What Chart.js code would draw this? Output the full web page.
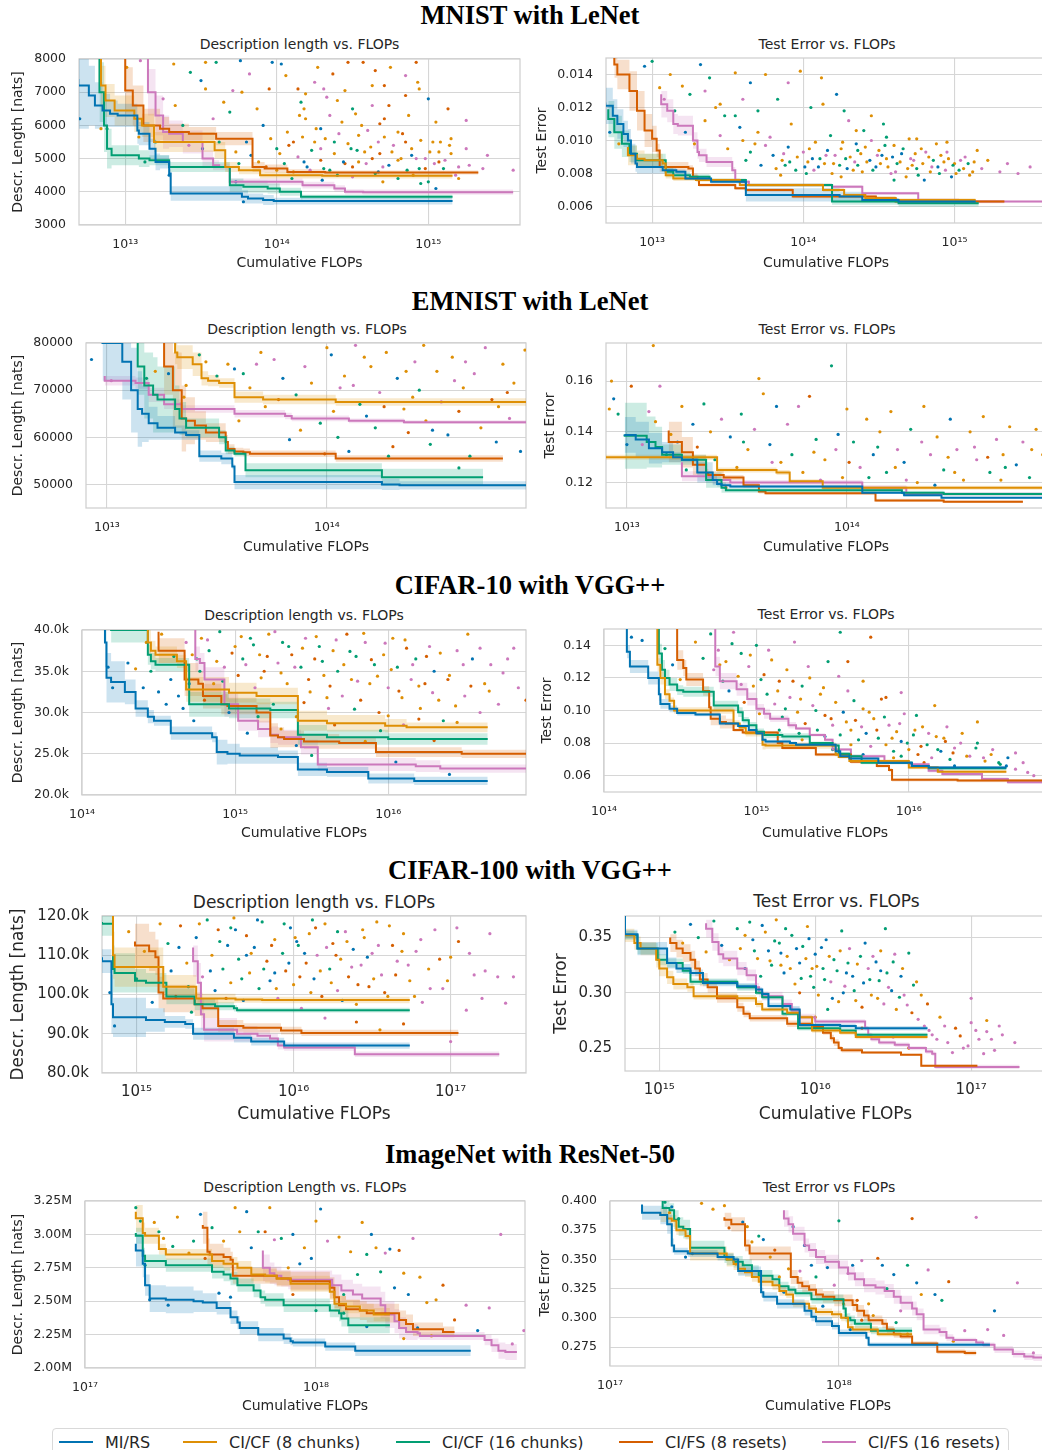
<!DOCTYPE html>
<html>
<head>
<meta charset="utf-8">
<script src="https://cdn.jsdelivr.net/npm/chart.js@4.4.1/dist/chart.umd.min.js"></script>
<style>
  html, body { margin: 0; padding: 0; overflow: hidden; background: #fff; }
  body { width: 1042px; height: 1450px; position: relative; font-family: "DejaVu Sans", sans-serif; color: #262626; }
  canvas { position: absolute; }
  .title { position: absolute; left: 0; width: 1060px; text-align: center; font: bold 26.5px "Liberation Serif", serif; color: #000; line-height: 1.2; white-space: nowrap; }
  .sub { position: absolute; width: 400px; text-align: center; line-height: 1.2; white-space: nowrap; color: #262626; }
  #legend { position: absolute; left: 52px; top: 1428px; width: 955px; height: 40px; border: 1px solid #d9d9d9; border-radius: 4px; }
  .lg-line { position: absolute; width: 34px; height: 2px; }
  .lg-text { position: absolute; font-size: 16px; line-height: 1.2; white-space: nowrap; color: #262626; }
</style>
</head>
<body>
<div id="legend"></div>
<script>
// ===============================
// SERIES
// ===============================
const SERIES_NAMES = ["MI/RS", "CI/CF (8 chunks)", "CI/CF (16 chunks)", "CI/FS (8 resets)", "CI/FS (16 resets)"];
const COLORS = ["#0173b2", "#de8f05", "#029e73", "#d55e00", "#cc78bc"];

// step rows: [log10 FLOPs, mean, half band width]
// order in every panel: MI/RS, CI/CF 8, CI/CF 16, CI/FS 8, CI/FS 16
// dots: [log10 FLOPs, value, series index]

// ===============================
// MNIST with LeNet
// ===============================
const MNIST_XTICKS = [13, 14, 15];
const MNIST_DL_YTICKS = [3000, 4000, 5000, 6000, 7000, 8000];
const MNIST_TE_YTICKS = [0.006, 0.008, 0.010, 0.012, 0.014];

const MNIST_DL_STEPS = [
  [[12.69,7400,1500],[12.76,7200,1300],[12.80,6900,900],[12.85,6600,700],[12.9,6450,500],[12.95,6350,400],[13.08,6300,350],[13.09,5850,400],[13.16,5750,350],[13.2,5300,300],[13.23,4900,250],[13.29,4900,200],[13.3,4550,120],[13.77,3950,220],[13.81,3850,200],[13.91,3800,150],[13.98,3750,150],[15.16,3720,100]],
  [[12.84,8500,600],[12.87,7200,600],[12.93,6750,500],[13.06,6450,450],[13.11,6200,400],[13.19,6000,350],[13.59,5500,300],[13.66,5250,250],[13.75,4750,150],[13.89,4650,120],[14.3,4500,100],[15.16,4480,80]],
  [[12.83,8500,900],[12.86,7000,900],[12.88,6000,800],[12.91,5300,600],[13.09,5100,300],[13.16,5000,250],[13.29,4950,150],[13.69,4750,150],[13.78,4200,200],[13.94,4150,180],[14.02,4100,150],[14.16,4000,120],[14.17,3850,80],[15.16,3850,60]],
  [[13.0,8500,800],[13.05,7050,700],[13.12,6600,600],[13.23,6000,500],[13.29,5900,350],[13.42,5800,250],[13.6,5750,200],[13.84,5600,200],[13.92,4750,150],[14.07,4700,120],[14.32,4600,80],[15.33,4580,60]],
  [[13.15,8500,800],[13.2,7000,700],[13.25,6300,600],[13.29,5800,500],[13.38,5750,400],[13.51,5500,350],[13.58,5000,250],[13.62,4800,150],[13.69,4750,100],[14.17,4300,100],[14.38,4200,100],[14.45,4100,100],[14.57,4000,80],[15.56,3990,80]]
];
const MNIST_DL_DOTS = [
  [12.7,6200,0],[12.84,5900,1],[12.88,5900,2],[13.09,5650,1],[13.01,7750,1],[13.1,7950,4],[13.32,7850,1],[13.43,7600,2],[13.53,7900,1],[13.5,7350,0],[13.6,7900,2],[13.53,7100,1],[13.71,7050,4],[13.69,6400,2],[13.76,7950,0],[13.77,7000,1],[13.82,7550,4],[13.95,7100,3],[13.97,7900,0],[14.03,7850,0],
  [14.06,7500,1],[14.14,7100,3],[14.16,6700,2],[14.19,6950,1],[14.27,7750,1],[14.31,7100,4],[14.37,7550,3],[14.4,6750,1],[14.47,7900,3],[14.57,7900,3],[14.63,7200,1],[14.71,7200,3],[14.75,7750,1],[14.92,7900,3],[14.93,7300,1],[15.0,6800,0],[15.13,6500,3],[15.25,6150,4],[14.07,5800,1],[14.19,6200,1],
  [14.11,5500,3],[14.25,5500,1],[14.29,5900,0],[14.38,5500,2],[14.43,6100,1],[14.49,5300,2],[14.54,5700,1],[14.58,5200,1],[14.63,5000,3],[14.67,5500,4],[14.71,6200,3],[14.76,5200,1],[14.8,5800,1],[14.85,5500,3],[14.89,5100,0],[14.94,4700,2],[14.98,5000,4],[15.03,5500,1],[15.07,4900,3],[15.14,5400,1],
  [15.18,4500,4],[15.27,4800,4],[15.36,4700,4],[15.39,5100,4],[15.56,4650,4],[14.18,4900,0],[14.31,4700,2],[14.4,4500,2],[14.54,4900,1],[14.67,4600,0],[14.8,4400,2],[15.0,4300,2],[15.05,4100,0],[13.91,6000,0],[13.96,5600,1],[14.0,5300,2],[13.87,6500,1],[13.8,5500,0],[13.73,5200,1],[13.62,5500,2],
  [13.51,5300,0],[13.42,5400,4],[13.38,6000,2],[13.33,6600,1],[13.25,6800,4],[13.2,5500,2],[13.13,4900,2],[13.29,4500,0],[13.73,4300,0],[13.78,3700,0],[13.58,6200,4],[13.65,6700,1],[14.18,6500,1],[14.5,6500,2],[14.74,6600,3],[14.94,7100,1],[14.63,6600,4],[14.29,5300,4],[14.82,5000,1],[15.07,5200,1],
  [15.15,5600,1],[14.45,4850,3],[14.7,4750,4],[14.9,4500,1],[15.2,4400,1],[14.35,6300,4],[14.85,6900,3],[14.6,5850,4],[14.22,4650,4],[15.1,4700,2],
  [14.02,5150,1],[14.05,4850,2],[14.08,5400,3],[14.11,4600,1],[14.14,5050,4],[14.17,5650,1],[14.2,4750,0],[14.23,5250,2],[14.26,5900,1],[14.29,4950,3],[14.32,5600,1],[14.35,4650,2],[14.38,5150,1],[14.41,5750,4],[14.44,4900,0],[14.47,5450,1],[14.5,4750,3],[14.53,5250,2],[14.56,6000,1],[14.59,4850,4],
  [14.62,5350,1],[14.65,4550,2],[14.68,5150,3],[14.71,5650,1],[14.74,4800,0],[14.77,5400,4],[14.8,4950,1],[14.83,5750,3],[14.86,4650,2],[14.89,5300,1],[14.92,5000,4],[14.95,5550,1],[14.98,4700,3],[15.01,5200,1],[15.04,4850,4],[15.08,5500,1],[15.11,4950,4],[15.15,5150,1],[15.2,4750,4],[15.25,5300,4],
  [14.15,6300,1],[14.33,6850,4],[14.52,6350,1],[14.68,6050,3],[14.87,6300,1],[15.05,6100,1],[14.25,7300,4],[14.45,7050,1],[14.65,7650,3],[14.85,7500,4],[13.88,4900,1],[13.93,4750,3],[14.0,4650,1],[13.83,5100,0],[13.75,4850,2],[14.1,4400,2],[14.3,4350,0],[14.5,4450,4],[14.7,4300,1],[14.95,4250,2]
];

const MNIST_TE_STEPS = [
  [[12.69,0.0123,0.0012],[12.74,0.0121,0.0011],[12.77,0.0115,0.001],[12.81,0.011,0.0009],[12.84,0.0104,0.0008],[12.86,0.0100,0.0007],[12.89,0.0092,0.0006],[12.9,0.0086,0.0005],[13.07,0.0084,0.0004],[13.16,0.0082,0.0002],[13.22,0.0081,0.00015],[13.39,0.0077,0.0001],[13.62,0.0075,0.0001],[14.24,0.0067,0.0004],[14.39,0.0066,0.0003],[14.63,0.0064,0.0001],[15.14,0.0063,0.0001]],
  [[12.84,0.0096,0.0007],[12.9,0.0091,0.0006],[12.95,0.0089,0.0005],[13.07,0.0088,0.0004],[13.09,0.0086,0.0003],[13.14,0.0079,0.0002],[13.29,0.0077,0.00015],[13.58,0.0076,0.0001],[14.13,0.0073,0.0001],[14.27,0.0070,0.0001],[14.41,0.0067,0.0001],[14.61,0.0065,0.0001],[15.03,0.0064,0.0001],[15.14,0.0064,0.0001]],
  [[12.71,0.0119,0.0012],[12.75,0.0113,0.0011],[12.8,0.0105,0.001],[12.85,0.0098,0.0008],[12.9,0.0092,0.0005],[13.09,0.0088,0.0004],[13.14,0.0081,0.0003],[13.25,0.0079,0.0002],[13.38,0.0078,0.00015],[13.62,0.0076,0.0001],[14.19,0.0073,0.0001],[14.63,0.0063,0.0002],[14.85,0.0062,0.0002],[15.16,0.0062,0.0002]],
  [[12.75,0.0155,0.0008],[12.77,0.0146,0.0008],[12.85,0.0140,0.0009],[12.9,0.0130,0.0012],[12.95,0.0118,0.0012],[13.0,0.0106,0.001],[13.03,0.0101,0.0008],[13.05,0.0094,0.0004],[13.24,0.0084,0.0003],[13.27,0.0083,0.0002],[13.3,0.0078,0.0002],[13.31,0.0076,0.00015],[13.55,0.0073,0.0001],[13.62,0.0071,0.0001],[13.93,0.0070,0.0001],[14.48,0.0066,0.0001],[14.61,0.0065,0.0001],[15.14,0.0063,0.0001],[15.33,0.0063,0.0001]],
  [[13.06,0.0128,0.0008],[13.1,0.0122,0.0008],[13.14,0.0118,0.0007],[13.17,0.0110,0.0006],[13.27,0.0109,0.0006],[13.3,0.0100,0.0005],[13.31,0.0093,0.0004],[13.36,0.0091,0.0004],[13.53,0.0087,0.0003],[13.55,0.0082,0.0002],[13.58,0.0076,0.0001],[13.64,0.0075,0.0001],[14.19,0.0073,0.0001],[14.39,0.0072,0.0001],[14.76,0.0068,0.0001],[15.03,0.0064,0.0001],[15.1,0.0063,0.00005],[15.61,0.0063,0.00005]]
];
const MNIST_TE_DOTS = [
  [12.72,0.0105,0],[12.78,0.0098,1],[12.95,0.0145,0],[13.0,0.0148,2],[13.05,0.0132,1],[13.08,0.0125,4],[13.12,0.0140,1],[13.15,0.0118,2],[13.2,0.0133,1],[13.22,0.0105,0],[13.25,0.0128,2],[13.28,0.0098,1],[13.32,0.0146,0],[13.35,0.0112,1],[13.38,0.0138,2],[13.42,0.0120,1],[13.45,0.0103,4],[13.48,0.0115,2],[13.5,0.0095,1],[13.55,0.0141,1],
  [13.58,0.0108,0],[13.6,0.0125,4],[13.62,0.0088,2],[13.65,0.0135,0],[13.68,0.0098,1],[13.7,0.0118,2],[13.72,0.0085,0],[13.75,0.0140,1],[13.78,0.0102,4],[13.8,0.0091,0],[13.83,0.0125,2],[13.86,0.0088,1],[13.9,0.0096,0],[13.92,0.0110,1],[13.95,0.0082,2],[13.98,0.0142,1],[14.0,0.0093,4],[14.03,0.0087,1],[14.05,0.0120,2],[14.08,0.0099,1],
  [14.1,0.0084,0],[14.12,0.0138,1],[14.15,0.0091,4],[14.18,0.0103,2],[14.2,0.0086,1],[14.22,0.0128,0],[14.25,0.0095,1],[14.28,0.0089,2],[14.3,0.0112,4],[14.33,0.0082,1],[14.35,0.0098,0],[14.38,0.0092,1],[14.4,0.0106,2],[14.42,0.0087,1],[14.45,0.0100,4],[14.48,0.0084,0],[14.5,0.0094,1],[14.53,0.0110,2],[14.55,0.0089,1],[14.58,0.0080,4],
  [14.6,0.0097,1],[14.62,0.0086,2],[14.65,0.0092,0],[14.68,0.0078,1],[14.7,0.0101,1],[14.73,0.0088,4],[14.75,0.0083,2],[14.78,0.0095,1],[14.8,0.0076,0],[14.83,0.0090,1],[14.85,0.0084,4],[14.88,0.0098,1],[14.9,0.0080,2],[14.93,0.0087,1],[14.95,0.0093,4],[14.98,0.0078,0],[15.0,0.0086,1],[15.03,0.0082,2],[15.07,0.0090,4],[15.1,0.0079,1],
  [15.13,0.0087,1],[15.18,0.0083,4],[15.22,0.0088,1],[15.3,0.0081,4],[15.35,0.0086,4],[15.42,0.0080,4],[15.5,0.0084,4],[13.85,0.0079,1],[14.02,0.0080,2],[14.6,0.0076,2],[14.25,0.0078,1],[13.9,0.0135,4],[14.13,0.0122,1],[14.27,0.0118,2],[14.45,0.0115,1],[13.88,0.0085,2],[14.06,0.0089,0],[14.36,0.0085,2],[14.52,0.0091,0],[14.72,0.0085,1],
  [13.82,0.0083,1],[13.87,0.0092,4],[13.91,0.0087,2],[13.96,0.0090,1],[14.01,0.0084,0],[14.04,0.0095,1],[14.07,0.0082,4],[14.11,0.0089,2],[14.14,0.0086,1],[14.16,0.0094,0],[14.19,0.0080,1],[14.21,0.0091,4],[14.24,0.0085,2],[14.26,0.0099,1],[14.29,0.0083,0],[14.31,0.0090,1],[14.34,0.0087,4],[14.36,0.0094,2],[14.39,0.0081,1],[14.41,0.0096,1],
  [14.44,0.0088,0],[14.46,0.0082,2],[14.49,0.0091,4],[14.51,0.0086,1],[14.54,0.0097,2],[14.56,0.0084,1],[14.59,0.0090,0],[14.61,0.0081,4],[14.64,0.0087,1],[14.66,0.0095,2],[14.69,0.0083,1],[14.71,0.0089,4],[14.74,0.0092,1],[14.76,0.0079,2],[14.79,0.0086,1],[14.81,0.0093,4],[14.84,0.0081,1],[14.86,0.0088,2],[14.89,0.0084,0],[14.91,0.0091,1],
  [14.94,0.0082,4],[14.96,0.0089,1],[14.99,0.0085,2],[15.01,0.0080,1],[15.04,0.0088,4],[15.06,0.0083,1],[15.09,0.0086,2],[15.12,0.0081,1],[13.6,0.0100,1],[13.65,0.0093,2],[13.7,0.0105,1],[13.75,0.0097,4],[13.55,0.0115,2],[13.45,0.0122,1],[13.35,0.0130,4],[14.35,0.0106,1],[14.55,0.0102,2],[14.75,0.0101,1],[14.95,0.0099,1],[15.15,0.0094,1]
];

// ===============================
// EMNIST with LeNet
// ===============================
const EMNIST_XTICKS = [13, 14];
const EMNIST_DL_YTICKS = [50000, 60000, 70000, 80000];
const EMNIST_TE_YTICKS = [0.12, 0.14, 0.16];

const EMNIST_DL_STEPS = [
  [[12.98,85000,8000],[13.07,80000,8000],[13.11,76000,8000],[13.14,70000,9000],[13.16,66000,8000],[13.19,65000,6000],[13.23,63000,3500],[13.31,62000,2500],[13.36,61000,1500],[13.42,60500,1000],[13.52,56000,1200],[13.57,55500,1200],[13.58,53800,600],[14.25,50500,1500],[14.33,50000,1200],[14.52,49800,900],[14.91,49800,900]],
  [[13.31,85000,3000],[13.32,78000,2500],[13.39,77000,2500],[13.43,75500,2500],[13.46,72500,1500],[13.51,72000,1200],[13.58,71500,1000],[13.71,68500,1200],[14.04,68000,1000],[14.2,67500,800],[14.91,67500,800]],
  [[13.14,80000,5000],[13.17,75000,6000],[13.21,71000,7000],[13.23,69000,8000],[13.31,68000,7000],[13.33,66000,5000],[13.36,64000,3500],[13.51,62000,2000],[13.54,60000,1500],[13.58,57200,800],[13.63,56500,600],[14.25,53000,1500],[14.33,51500,1800],[14.71,51500,1800]],
  [[13.26,80000,4000],[13.3,75000,6000],[13.34,70000,8000],[13.36,64000,7000],[13.4,63500,5000],[13.45,62500,3000],[13.54,61000,2000],[13.55,59000,1500],[13.58,57500,1000],[13.62,57000,800],[13.65,56800,800],[14.04,56500,700],[14.43,55500,700],[14.8,55500,700]],
  [[12.99,73000,4000],[13.0,72000,1000],[13.13,72000,1000],[13.19,71500,1200],[13.26,69000,1500],[13.34,67000,1000],[13.58,66000,800],[13.81,65000,800],[13.84,64500,700],[14.1,64000,600],[14.35,63500,500],[14.43,63200,400],[14.91,63200,400]]
];
const EMNIST_DL_DOTS = [
  [12.93,76500,0],[13.02,72000,4],[13.18,72500,2],[13.22,74000,1],[13.28,73500,0],[13.35,68500,1],[13.36,71000,1],[13.42,77500,2],[13.45,76000,1],[13.5,73000,2],[13.55,75500,1],[13.58,74500,0],[13.62,73500,2],[13.65,70500,1],[13.7,78000,1],[13.72,66500,1],[13.76,76500,4],[13.8,72500,0],[13.83,59500,0],[13.86,69000,2],
  [13.9,75000,4],[13.93,71500,1],[13.97,63000,2],[14.0,79000,1],[14.02,77500,0],[14.05,60000,2],[14.08,73000,1],[14.1,57000,0],[14.12,71000,4],[14.15,67000,2],[14.18,64500,0],[14.2,75000,1],[14.22,62000,2],[14.24,69500,4],[14.27,78000,1],[14.3,58000,3],[14.32,72500,0],[14.35,66000,1],[14.37,61000,3],[14.4,76000,4],
  [14.42,70000,2],[14.45,63500,1],[14.47,58500,2],[14.5,74000,1],[14.52,67500,4],[14.55,60500,0],[14.57,77000,1],[14.6,65500,3],[14.62,70500,1],[14.65,56000,2],[14.67,73500,4],[14.7,62000,1],[14.72,79000,4],[14.75,68000,3],[14.77,59000,0],[14.8,75500,1],[14.83,64000,4],[14.85,71500,1],[14.88,57000,0],[14.9,78500,1],
  [13.99,56500,3],[14.13,79500,4],[14.28,56000,2],[14.44,79500,1],[14.6,53500,2],[13.78,68000,3],[14.03,65500,1],[14.36,74000,1],[14.58,72000,4],[14.78,66500,1],
  [13.6,63500,1],[13.68,75500,4],[13.88,61500,1],[14.06,70500,4],[14.17,77000,1],[14.26,66500,3],[14.39,68500,1],[14.48,61500,0],[14.63,76000,4],[14.82,69500,3]
];

const EMNIST_TE_STEPS = [
  [[12.99,0.139,0.007],[13.04,0.1388,0.007],[13.1,0.137,0.007],[13.16,0.1335,0.006],[13.21,0.132,0.004],[13.25,0.130,0.002],[13.32,0.129,0.001],[13.39,0.124,0.004],[13.41,0.121,0.002],[13.43,0.1195,0.001],[13.47,0.119,0.0008],[14.07,0.1185,0.0006],[14.26,0.116,0.0005],[14.43,0.115,0.0005],[14.57,0.114,0.0004],[14.91,0.114,0.0004]],
  [[12.9,0.131,0.001],[13.41,0.130,0.001],[13.68,0.125,0.001],[13.74,0.124,0.001],[13.89,0.1205,0.0008],[14.29,0.118,0.0008],[14.91,0.118,0.0008]],
  [[12.99,0.139,0.013],[13.09,0.1385,0.013],[13.13,0.136,0.01],[13.16,0.134,0.008],[13.25,0.131,0.004],[13.36,0.129,0.002],[13.43,0.121,0.003],[13.45,0.118,0.002],[14.25,0.117,0.001],[14.44,0.116,0.0008],[14.91,0.1155,0.0006]],
  [[13.19,0.1405,0.01],[13.25,0.136,0.008],[13.3,0.132,0.006],[13.36,0.127,0.004],[13.37,0.1235,0.002],[13.44,0.123,0.0015],[13.53,0.122,0.001],[13.6,0.119,0.001],[13.63,0.1165,0.0008],[14.13,0.1158,0.0006],[14.44,0.113,0.0006],[14.57,0.1125,0.0005],[14.8,0.1125,0.0005]],
  [[13.25,0.128,0.001],[13.39,0.1225,0.002],[13.47,0.121,0.0015],[14.07,0.120,0.001],[14.27,0.118,0.001],[14.47,0.1155,0.0008],[14.91,0.1155,0.0008]]
];
const EMNIST_TE_DOTS = [
  [12.92,0.149,1],[12.93,0.160,1],[12.94,0.153,0],[12.96,0.147,2],[13.0,0.135,0],[13.02,0.158,3],[13.07,0.135,4],[13.1,0.148,4],[13.12,0.174,1],[13.13,0.144,1],[13.15,0.158,4],[13.18,0.131,2],[13.2,0.139,1],[13.23,0.136,0],[13.25,0.150,1],[13.27,0.125,2],[13.3,0.143,0],[13.32,0.134,3],[13.35,0.151,2],[13.38,0.140,1],
  [13.4,0.129,2],[13.43,0.145,4],[13.47,0.138,0],[13.5,0.126,1],[13.52,0.147,2],[13.55,0.133,1],[13.58,0.141,4],[13.6,0.161,1],[13.62,0.155,1],[13.65,0.135,0],[13.68,0.150,0],[13.7,0.128,1],[13.73,0.143,4],[13.75,0.131,2],[13.78,0.150,4],[13.8,0.124,1],[13.83,0.154,3],[13.86,0.137,2],[13.9,0.129,1],[13.93,0.166,2],
  [13.95,0.133,4],[13.98,0.122,1],[14.0,0.149,1],[14.03,0.136,2],[14.06,0.126,4],[14.09,0.145,1],[14.12,0.131,0],[14.15,0.140,1],[14.18,0.124,2],[14.2,0.148,1],[14.23,0.133,4],[14.26,0.128,0],[14.29,0.141,2],[14.32,0.120,1],[14.35,0.150,1],[14.38,0.131,4],[14.41,0.138,1],[14.44,0.125,2],[14.47,0.145,0],[14.5,0.133,4],
  [14.53,0.121,1],[14.56,0.140,1],[14.59,0.129,4],[14.62,0.146,1],[14.65,0.124,2],[14.68,0.137,4],[14.71,0.131,1],[14.74,0.142,1],[14.77,0.127,0],[14.8,0.136,4],[14.83,0.122,2],[14.86,0.141,1],[14.89,0.131,1],[13.45,0.118,3],[13.88,0.121,4],[14.1,0.122,2],[14.4,0.119,0],[14.7,0.121,1],
  [13.53,0.136,2],[13.66,0.128,4],[13.85,0.132,1],[14.01,0.128,3],[14.14,0.134,2],[14.22,0.126,1],[14.34,0.136,4],[14.46,0.130,1],[14.58,0.134,4],[14.72,0.126,2],[14.84,0.133,1],[14.27,0.121,4],[14.49,0.124,1],[13.96,0.139,0],[14.64,0.130,3]
];

// ===============================
// CIFAR-10 with VGG++
// ===============================
const C10_XTICKS = [14, 15, 16];
const C10_DL_YTICKS = [20000, 25000, 30000, 35000, 40000];
const C10_TE_YTICKS = [0.06, 0.08, 0.10, 0.12, 0.14];

const C10_DL_STEPS = [
  [[14.15,41000,3000],[14.16,38500,3000],[14.19,34200,3000],[14.28,33700,2500],[14.35,32500,1500],[14.43,30500,1000],[14.47,29500,800],[14.58,29000,600],[14.85,27500,800],[14.88,27000,600],[14.95,25200,1500],[15.03,25000,1200],[15.28,24800,1000],[15.41,24600,800],[15.6,23100,800],[15.87,22800,600],[16.17,22000,600],[16.24,21700,500],[16.65,21700,500]],
  [[14.43,41000,1500],[14.45,38500,1500],[14.48,37500,1200],[14.62,37000,1000],[14.68,36200,800],[14.96,32800,1500],[15.14,32400,1200],[15.41,32000,1000],[15.6,29000,1200],[15.98,28700,1000],[16.12,28400,800],[16.24,28200,600],[16.65,28200,600]],
  [[14.19,40500,1500],[14.43,40000,1500],[14.45,37000,1200],[14.48,36200,1000],[14.7,35800,800],[14.96,31000,1500],[15.23,30500,1200],[15.41,30300,1000],[15.6,27300,1200],[16.0,27000,900],[16.12,26800,700],[16.65,26800,700]],
  [[14.5,39800,1500],[14.67,37500,1500],[14.76,34000,2000],[14.79,33500,1500],[14.91,32000,1500],[14.95,31000,1200],[15.14,30800,1000],[15.23,30000,1200],[15.28,27200,1500],[15.32,27000,1200],[15.45,26800,1000],[15.68,26500,900],[15.92,26300,700],[16.48,25200,600],[16.93,25000,500]],
  [[14.74,41000,2000],[14.77,36500,1500],[14.8,36000,1200],[14.93,34000,1500],[15.02,31000,1500],[15.15,29000,1200],[15.23,28000,1000],[15.28,27300,1000],[15.43,27000,900],[15.54,25800,900],[16.18,23700,800],[16.34,23500,700],[16.74,23200,500],[16.93,23200,500]]
];
const C10_DL_DOTS = [
  [14.17,35500,0],[14.2,33000,0],[14.3,36000,0],[14.35,35300,1],[14.4,33000,0],[14.42,38500,1],[14.45,35000,2],[14.5,32500,0],[14.52,39500,1],[14.55,31000,0],[14.58,34000,0],[14.6,36800,2],[14.63,32000,0],[14.66,30500,0],[14.68,38500,4],[14.7,33500,0],[14.73,29000,0],[14.75,36500,2],[14.78,39000,1],[14.8,31500,3],
  [14.83,37500,2],[14.86,33500,1],[14.9,39800,2],[14.93,35500,4],[14.96,30000,0],[15.0,38000,1],[15.02,34500,3],[15.05,36500,2],[15.08,27500,0],[15.1,39000,2],[15.13,33000,4],[15.16,37000,1],[15.19,35000,3],[15.22,39500,1],[15.25,31000,2],[15.28,36000,4],[15.31,38500,2],[15.34,33500,1],[15.37,37000,3],[15.4,29500,1],
  [15.43,35500,2],[15.46,39000,4],[15.49,32500,1],[15.52,36500,3],[15.55,38000,2],[15.58,34500,1],[15.61,30500,4],[15.64,37500,1],[15.67,35000,2],[15.7,32000,4],[15.73,39500,3],[15.76,34000,1],[15.79,36800,2],[15.82,31500,3],[15.85,38500,4],[15.88,33500,1],[15.91,35800,2],[15.94,30000,3],[15.97,37000,1],[16.0,33000,4],
  [16.03,39000,1],[16.06,35500,2],[16.09,31800,1],[16.12,37800,3],[16.15,34000,4],[16.18,36500,2],[16.21,30500,1],[16.24,33500,3],[16.27,38000,4],[16.3,35000,0],[16.33,31500,1],[16.36,29000,2],[16.4,34500,1],[16.45,37500,4],[16.5,32000,4],[16.55,36500,0],[16.6,30000,4],[16.63,33500,1],[16.67,35800,4],[16.72,31000,4],
  [16.78,36500,4],[16.85,33000,4],[16.9,31500,3],[16.52,39500,1],[15.4,26000,0],[15.5,24800,2],[15.85,26500,1],[16.05,24000,0],[16.4,22500,0],[16.1,28500,4],[15.3,28000,1],[15.15,29500,2],[15.65,28500,3],[15.95,27800,2],[16.3,26600,3],
  [14.72,37000,1],[14.77,35000,2],[14.82,38800,4],[14.88,36200,1],[14.92,33800,2],[14.98,37200,3],[15.04,39200,1],[15.07,35800,4],[15.12,38200,2],[15.17,34200,1],[15.21,36800,3],[15.26,39800,4],[15.3,34800,1],[15.35,38000,2],[15.39,35500,4],[15.44,37800,1],[15.48,34000,3],[15.53,39200,1],[15.57,36200,2],[15.62,33200,3],
  [15.66,38800,4],[15.71,35800,1],[15.75,37400,2],[15.8,33800,4],[15.84,39600,1],[15.89,36400,3],[15.93,34400,1],[15.98,38400,4],[16.02,35200,1],[16.07,32600,3],[16.11,38800,1],[16.16,35800,4],[16.2,33200,1],[16.25,36800,3],[16.29,32400,4],[16.34,37200,1],[16.39,34000,3],[16.44,30800,1],[16.49,35800,4],[16.54,33200,3],
  [16.6,37800,4],[16.66,32600,1],[16.75,34800,4],[16.82,37800,4],[15.6,31800,1],[15.78,30400,2],[16.0,29600,1],[16.2,29200,3],[16.45,28800,1],[15.45,31200,3]
];

const C10_TE_STEPS = [
  [[14.15,0.150,0.004],[14.17,0.136,0.004],[14.29,0.127,0.004],[14.36,0.120,0.004],[14.37,0.110,0.004],[14.43,0.104,0.003],[14.48,0.101,0.002],[14.6,0.0985,0.0015],[14.76,0.0975,0.001],[14.88,0.092,0.001],[14.95,0.0905,0.001],[15.0,0.088,0.001],[15.04,0.086,0.001],[15.06,0.082,0.001],[15.22,0.081,0.001],[15.26,0.080,0.001],[15.52,0.079,0.001],[15.55,0.075,0.001],[15.61,0.072,0.001],[15.8,0.0705,0.001],[16.02,0.068,0.0008],[16.13,0.066,0.0008],[16.26,0.065,0.0008],[16.64,0.065,0.0008]],
  [[14.35,0.150,0.003],[14.37,0.128,0.004],[14.4,0.120,0.004],[14.43,0.110,0.003],[14.46,0.106,0.002],[14.85,0.100,0.002],[14.89,0.092,0.002],[14.93,0.0895,0.001],[15.04,0.086,0.002],[15.06,0.079,0.003],[15.52,0.0785,0.002],[15.54,0.073,0.001],[15.61,0.0715,0.001],[16.0,0.069,0.001],[16.19,0.065,0.001],[16.21,0.0625,0.001],[16.64,0.0625,0.001]],
  [[14.36,0.150,0.004],[14.38,0.135,0.006],[14.4,0.125,0.006],[14.43,0.120,0.005],[14.48,0.116,0.004],[14.52,0.1125,0.003],[14.72,0.1115,0.003],[14.88,0.103,0.003],[14.91,0.099,0.003],[14.95,0.094,0.002],[15.0,0.091,0.002],[15.05,0.087,0.002],[15.17,0.085,0.002],[15.35,0.084,0.002],[15.5,0.080,0.001],[15.54,0.0785,0.001],[15.61,0.0735,0.001],[15.69,0.072,0.001],[16.02,0.068,0.001],[16.13,0.066,0.001],[16.22,0.0645,0.001],[16.64,0.0645,0.001]],
  [[14.48,0.150,0.006],[14.52,0.131,0.006],[14.54,0.126,0.005],[14.65,0.119,0.004],[14.69,0.112,0.003],[14.7,0.102,0.003],[14.76,0.095,0.004],[14.8,0.093,0.004],[14.85,0.092,0.003],[14.91,0.088,0.001],[15.14,0.0865,0.001],[15.17,0.080,0.001],[15.39,0.077,0.001],[15.62,0.073,0.001],[15.79,0.0685,0.001],[15.87,0.066,0.001],[15.89,0.0635,0.001],[16.32,0.0575,0.001],[16.9,0.057,0.001]],
  [[14.73,0.150,0.006],[14.76,0.127,0.006],[14.87,0.118,0.005],[14.94,0.113,0.004],[15.0,0.107,0.004],[15.05,0.101,0.003],[15.09,0.098,0.003],[15.21,0.095,0.002],[15.26,0.091,0.002],[15.35,0.089,0.001],[15.45,0.085,0.001],[15.5,0.082,0.001],[15.62,0.076,0.001],[15.84,0.072,0.001],[16.0,0.068,0.001],[16.13,0.067,0.001],[16.22,0.063,0.001],[16.48,0.061,0.001],[16.65,0.058,0.001],[16.9,0.056,0.001]]
];
const C10_TE_DOTS = [
  [14.18,0.145,0],[14.25,0.143,0],[14.4,0.138,2],[14.45,0.128,0],[14.5,0.119,1],[14.6,0.142,1],[14.65,0.132,2],[14.7,0.147,2],[14.72,0.125,4],[14.75,0.137,4],[14.78,0.118,2],[14.8,0.130,1],[14.82,0.112,0],[14.85,0.148,4],[14.88,0.121,1],[14.9,0.135,2],[14.92,0.105,3],[14.95,0.127,4],[14.98,0.115,1],[15.0,0.140,2],
  [15.02,0.098,1],[15.05,0.122,3],[15.07,0.110,2],[15.1,0.131,1],[15.12,0.104,4],[15.15,0.118,3],[15.17,0.096,2],[15.2,0.125,1],[15.22,0.108,4],[15.25,0.142,4],[15.27,0.099,1],[15.3,0.115,2],[15.32,0.092,3],[15.35,0.120,1],[15.37,0.103,4],[15.4,0.088,2],[15.42,0.110,1],[15.45,0.097,3],[15.47,0.130,2],[15.5,0.091,4],
  [15.52,0.105,1],[15.55,0.085,2],[15.57,0.099,0],[15.6,0.112,4],[15.62,0.088,1],[15.65,0.094,3],[15.67,0.082,2],[15.7,0.101,1],[15.72,0.086,0],[15.75,0.078,4],[15.77,0.095,1],[15.8,0.083,2],[15.82,0.107,3],[15.85,0.079,1],[15.87,0.091,4],[15.9,0.075,2],[15.92,0.087,1],[15.95,0.081,0],[15.97,0.098,4],[16.0,0.076,1],
  [16.03,0.085,2],[16.06,0.073,3],[16.09,0.090,1],[16.12,0.079,2],[16.15,0.071,4],[16.18,0.084,1],[16.21,0.075,0],[16.24,0.081,3],[16.27,0.070,2],[16.3,0.077,4],[16.35,0.086,1],[16.4,0.072,4],[16.45,0.080,2],[16.5,0.069,1],[16.55,0.076,4],[16.6,0.067,2],[16.65,0.071,0],[16.7,0.074,4],[16.78,0.062,4],[15.7,0.118,1],
  [15.85,0.108,3],[16.05,0.097,2],[16.17,0.103,1],[15.75,0.145,3],[15.55,0.148,2],[16.25,0.090,4],[15.28,0.086,2],[15.45,0.084,0],[15.62,0.079,1],[15.95,0.072,2],
  [14.76,0.128,1],[14.84,0.141,2],[14.9,0.116,4],[14.96,0.134,1],[15.03,0.119,2],[15.08,0.137,4],[15.14,0.112,1],[15.19,0.101,2],[15.24,0.118,3],[15.29,0.107,1],[15.34,0.127,4],[15.39,0.100,2],[15.44,0.114,1],[15.49,0.095,3],[15.54,0.121,4],[15.59,0.093,1],[15.64,0.106,2],[15.69,0.090,4],[15.74,0.099,1],[15.79,0.088,3],
  [15.84,0.096,2],[15.89,0.083,1],[15.94,0.092,4],[15.99,0.080,2],[16.04,0.088,1],[16.08,0.078,3],[16.13,0.086,4],[16.19,0.076,2],[16.23,0.083,1],[16.29,0.074,3],[16.34,0.080,4],[16.38,0.072,1],[16.44,0.077,2],[16.49,0.071,4],[16.54,0.073,1],[16.59,0.068,2],[16.64,0.066,0],[16.7,0.064,4],[16.75,0.068,4],[16.82,0.060,4],
  [15.5,0.076,2],[15.7,0.073,0],[15.9,0.071,1],[16.1,0.068,3],[16.3,0.066,0],[15.3,0.082,1],[15.15,0.088,2],[15.6,0.130,3],[15.95,0.111,4],[16.45,0.093,1]
];

// ===============================
// CIFAR-100 with VGG++
// ===============================
const C100_XTICKS = [15, 16, 17];
const C100_DL_YTICKS = [80000, 90000, 100000, 110000, 120000];
const C100_TE_YTICKS = [0.25, 0.30, 0.35];

const C100_DL_STEPS = [
  [[14.78,109500,2000],[14.84,108500,3000],[14.85,97500,7500],[15.06,94200,5000],[15.18,93500,3000],[15.31,93000,1500],[15.36,92500,1200],[15.62,90000,1500],[15.73,89000,1200],[15.94,88000,1000],[16.17,87000,800],[16.74,87000,800]],
  [[14.85,121000,5000],[14.86,110000,6000],[15.17,107000,5000],[15.38,102000,3000],[15.63,99000,1200],[15.8,98700,800],[16.74,98600,800]],
  [[14.78,118500,2000],[14.85,118000,3000],[14.86,106500,6000],[14.99,105500,5000],[15.06,103500,3000],[15.19,103000,2500],[15.37,99500,2000],[15.5,97500,1500],[15.62,97000,1000],[15.64,96500,800],[15.81,96000,600],[16.74,96000,600]],
  [[14.99,113500,6000],[15.08,112500,5500],[15.12,111000,5000],[15.14,109500,4500],[15.17,100500,4000],[15.37,99000,3500],[15.42,97500,3000],[15.52,96500,2500],[15.68,92000,1500],[15.92,91500,1200],[16.05,90800,1000],[16.54,90200,800],[17.05,90200,800]],
  [[15.36,112000,3000],[15.39,108500,4000],[15.41,103000,5000],[15.43,95000,4000],[15.64,91000,3000],[15.77,90000,2000],[15.85,89500,1500],[15.9,88800,1200],[15.94,87000,1000],[16.39,86500,800],[16.8,84800,700],[17.31,84800,700]]
];
const C100_DL_DOTS = [
  [14.83,100500,0],[14.86,92000,0],[14.95,116000,1],[15.0,104000,2],[15.05,111000,1],[15.1,98000,0],[15.15,118000,1],[15.2,113000,2],[15.22,106000,0],[15.25,99500,3],[15.28,117500,3],[15.32,108000,1],[15.35,95500,2],[15.38,114500,0],[15.42,104500,4],[15.45,119000,2],[15.48,110000,1],[15.5,101000,0],[15.52,116500,3],[15.55,106500,2],
  [15.58,112500,0],[15.6,103000,1],[15.62,119500,1],[15.65,109000,2],[15.68,98500,0],[15.7,115000,3],[15.72,105500,1],[15.75,112000,0],[15.78,101500,2],[15.8,118500,2],[15.83,108500,3],[15.85,103500,0],[15.88,114000,1],[15.9,99000,4],[15.93,110500,2],[15.95,106000,3],[15.98,117000,0],[16.0,102500,1],[16.03,112500,2],[16.05,96500,4],
  [16.08,108000,3],[16.1,115500,1],[16.13,104000,0],[16.15,110000,4],[16.18,99500,3],[16.2,118000,1],[16.23,106500,2],[16.25,113000,3],[16.28,101000,4],[16.3,109000,1],[16.33,116000,4],[16.35,104500,3],[16.38,111500,0],[16.4,97500,1],[16.43,107500,4],[16.45,114500,1],[16.48,102000,3],[16.5,110500,4],[16.53,118500,1],[16.56,105000,4],
  [16.6,99500,1],[16.63,112500,3],[16.66,108500,4],[16.7,115500,1],[16.74,103500,1],[16.78,111000,4],[16.82,98000,4],[16.86,106500,1],[16.9,116500,4],[16.95,101500,4],[17.0,109500,1],[17.05,113500,3],[17.1,96000,4],[17.15,105000,4],[17.2,99000,4],[17.25,115500,4],[17.3,104500,4],[17.35,97800,4],[17.4,104500,4],[16.2,94000,4],
  [16.4,93000,3],[16.7,92500,3],[17.0,88000,4],[16.55,91000,1],[15.7,110000,0],[15.88,105500,0],[16.02,113500,0],[16.28,116000,2],[15.6,117000,2],[16.12,119000,2],
  [15.27,112000,0],[15.33,102000,2],[15.4,118000,1],[15.47,106000,0],[15.53,113500,2],[15.57,99000,3],[15.63,116500,0],[15.67,104000,2],[15.73,110500,1],[15.77,119000,0],[15.81,106500,2],[15.86,112500,3],[15.89,101500,1],[15.94,118000,2],[15.97,108000,0],[16.01,114500,1],[16.04,104500,3],[16.07,110500,0],[16.11,100500,1],[16.14,117000,3],
  [16.17,106000,1],[16.21,112000,4],[16.24,103000,1],[16.27,110000,3],[16.31,98500,0],[16.34,113500,1],[16.37,107000,4],[16.41,102500,3],[16.44,116500,1],[16.47,109500,0],[16.51,104000,1],[16.54,112500,4],[16.58,100500,3],[16.61,117500,1],[16.65,105000,3],[16.69,111000,1],[16.73,107500,4],[16.77,99500,1],[16.81,114000,4],[16.87,101500,4],
  [16.93,109000,3],[16.98,103500,1],[17.04,117000,4],[17.12,110500,4],[17.22,106000,4]
];

const C100_TE_STEPS = [
  [[14.78,0.370,0.004],[14.86,0.353,0.004],[15.05,0.340,0.006],[15.11,0.327,0.005],[15.2,0.322,0.004],[15.28,0.318,0.003],[15.5,0.309,0.003],[15.62,0.306,0.003],[15.66,0.303,0.002],[15.7,0.299,0.002],[15.84,0.288,0.003],[15.9,0.285,0.003],[16.16,0.271,0.002],[16.26,0.270,0.002],[16.3,0.268,0.002],[16.72,0.268,0.002]],
  [[14.78,0.366,0.005],[14.84,0.352,0.006],[14.88,0.345,0.006],[14.98,0.340,0.006],[15.0,0.330,0.007],[15.05,0.322,0.007],[15.09,0.314,0.006],[15.18,0.308,0.005],[15.22,0.305,0.004],[15.5,0.297,0.003],[15.62,0.295,0.003],[15.66,0.290,0.003],[15.82,0.285,0.002],[15.9,0.282,0.002],[15.98,0.278,0.002],[16.16,0.266,0.002],[16.26,0.264,0.002],[16.59,0.260,0.002],[16.72,0.260,0.002]],
  [[14.78,0.370,0.004],[14.86,0.352,0.004],[14.99,0.340,0.005],[15.05,0.330,0.005],[15.15,0.327,0.004],[15.2,0.320,0.003],[15.5,0.310,0.003],[15.62,0.305,0.003],[15.66,0.300,0.002],[15.79,0.296,0.002],[15.89,0.281,0.002],[16.16,0.268,0.002],[16.26,0.266,0.002],[16.59,0.262,0.002],[16.72,0.262,0.002]],
  [[15.07,0.350,0.008],[15.11,0.345,0.008],[15.15,0.340,0.008],[15.2,0.336,0.008],[15.23,0.330,0.008],[15.26,0.322,0.007],[15.31,0.312,0.006],[15.37,0.305,0.005],[15.5,0.295,0.004],[15.54,0.287,0.004],[15.58,0.281,0.003],[15.82,0.277,0.003],[15.98,0.272,0.003],[16.05,0.269,0.002],[16.1,0.264,0.002],[16.12,0.259,0.003],[16.15,0.255,0.003],[16.17,0.250,0.002],[16.3,0.248,0.002],[16.55,0.246,0.001],[16.68,0.244,0.001],[16.95,0.234,0.001],[17.04,0.234,0.001]],
  [[15.3,0.363,0.008],[15.34,0.358,0.008],[15.38,0.346,0.008],[15.41,0.335,0.008],[15.5,0.331,0.007],[15.56,0.322,0.006],[15.62,0.316,0.005],[15.64,0.305,0.004],[15.66,0.300,0.004],[15.79,0.297,0.004],[15.85,0.290,0.004],[15.9,0.284,0.003],[16.0,0.278,0.003],[16.32,0.274,0.002],[16.34,0.268,0.002],[16.36,0.262,0.002],[16.41,0.258,0.002],[16.51,0.255,0.002],[16.6,0.253,0.002],[16.71,0.250,0.002],[16.75,0.247,0.002],[16.77,0.245,0.002],[17.2,0.233,0.002],[17.31,0.233,0.002]]
];
const C100_TE_DOTS = [
  [15.1,0.355,2],[15.15,0.345,1],[15.2,0.362,0],[15.25,0.350,2],[15.3,0.337,1],[15.35,0.365,2],[15.4,0.343,0],[15.45,0.330,1],[15.5,0.358,2],[15.52,0.340,1],[15.55,0.322,0],[15.58,0.364,2],[15.6,0.348,0],[15.63,0.331,1],[15.65,0.315,2],[15.68,0.355,1],[15.7,0.338,0],[15.72,0.325,2],[15.75,0.366,1],[15.77,0.345,2],
  [15.8,0.318,0],[15.82,0.333,1],[15.85,0.352,2],[15.87,0.308,1],[15.9,0.327,0],[15.92,0.342,2],[15.95,0.360,1],[15.97,0.315,2],[16.0,0.335,0],[16.02,0.298,1],[16.05,0.322,2],[16.07,0.348,0],[16.1,0.310,4],[16.12,0.330,2],[16.15,0.292,1],[16.17,0.356,2],[16.2,0.318,0],[16.22,0.340,4],[16.25,0.302,2],[16.27,0.326,1],
  [16.3,0.287,3],[16.32,0.345,0],[16.35,0.312,2],[16.37,0.333,4],[16.4,0.295,1],[16.42,0.320,0],[16.45,0.358,2],[16.47,0.305,4],[16.5,0.328,2],[16.52,0.285,1],[16.55,0.315,0],[16.57,0.298,4],[16.6,0.336,2],[16.62,0.282,3],[16.65,0.310,1],[16.7,0.270,4],[16.75,0.262,4],[16.8,0.278,1],[16.85,0.255,4],[16.9,0.268,3],
  [16.95,0.250,4],[17.0,0.273,4],[17.05,0.258,4],[17.1,0.265,4],[17.15,0.248,4],[17.2,0.262,4],[17.28,0.255,4],[17.0,0.295,4],[17.1,0.275,1],[16.0,0.278,1],[16.3,0.268,3],[16.5,0.260,4],[16.72,0.290,3],[16.08,0.285,2],[15.9,0.300,3],[16.6,0.250,3],[15.78,0.325,1],[15.98,0.322,1],[16.18,0.300,0],[16.42,0.338,1],
  [15.55,0.352,1],[15.61,0.338,2],[15.66,0.361,0],[15.71,0.329,1],[15.74,0.347,2],[15.78,0.336,0],[15.81,0.358,2],[15.84,0.322,1],[15.88,0.340,0],[15.91,0.313,2],[15.94,0.331,1],[15.96,0.349,0],[15.99,0.305,2],[16.01,0.324,1],[16.04,0.341,0],[16.06,0.312,2],[16.09,0.333,1],[16.11,0.295,0],[16.14,0.320,2],[16.16,0.338,1],
  [16.19,0.306,4],[16.21,0.327,2],[16.24,0.315,0],[16.26,0.293,1],[16.29,0.333,2],[16.31,0.309,0],[16.34,0.322,4],[16.36,0.298,1],[16.39,0.328,0],[16.41,0.311,2],[16.44,0.290,4],[16.46,0.318,2],[16.49,0.302,0],[16.51,0.335,4],[16.54,0.296,2],[16.56,0.322,1],[16.59,0.289,4],[16.63,0.307,2],[16.66,0.276,4],[16.68,0.298,1],
  [16.73,0.266,4],[16.78,0.258,4],[16.83,0.270,4],[16.88,0.246,4],[16.93,0.261,3],[16.98,0.252,4],[17.03,0.266,4],[17.08,0.245,4],[17.13,0.258,4],[17.18,0.270,4]
];

// ===============================
// ImageNet with ResNet-50
// ===============================
const IN_XTICKS = [17, 18];
const IN_DL_YTICKS = [2.0e6, 2.25e6, 2.5e6, 2.75e6, 3.0e6, 3.25e6];
const IN_TE_YTICKS = [0.275, 0.300, 0.325, 0.350, 0.375, 0.400];

const IN_DL_STEPS = [
  [[17.22,2.93e6,0.15e6],[17.25,2.88e6,0.12e6],[17.26,2.78e6,0.1e6],[17.28,2.62e6,0.08e6],[17.35,2.52e6,0.1e6],[17.47,2.51e6,0.1e6],[17.51,2.50e6,0.08e6],[17.57,2.49e6,0.07e6],[17.63,2.45e6,0.05e6],[17.66,2.38e6,0.05e6],[17.67,2.34e6,0.05e6],[17.75,2.30e6,0.05e6],[17.86,2.25e6,0.05e6],[17.89,2.22e6,0.04e6],[17.9,2.20e6,0.03e6],[18.04,2.19e6,0.03e6],[18.17,2.16e6,0.03e6],[18.37,2.13e6,0.04e6],[18.67,2.13e6,0.04e6]],
  [[17.22,3.17e6,0.07e6],[17.25,3.12e6,0.1e6],[17.26,3.01e6,0.08e6],[17.32,2.99e6,0.06e6],[17.35,2.89e6,0.04e6],[17.55,2.85e6,0.04e6],[17.6,2.80e6,0.05e6],[17.66,2.78e6,0.05e6],[17.72,2.75e6,0.05e6],[17.78,2.70e6,0.05e6],[17.83,2.69e6,0.05e6],[17.89,2.67e6,0.05e6],[18.06,2.63e6,0.06e6],[18.08,2.57e6,0.06e6],[18.13,2.48e6,0.06e6],[18.19,2.46e6,0.05e6],[18.25,2.43e6,0.05e6],[18.28,2.40e6,0.05e6],[18.32,2.40e6,0.05e6]],
  [[17.22,3.01e6,0.05e6],[17.25,2.99e6,0.06e6],[17.26,2.84e6,0.06e6],[17.35,2.80e6,0.05e6],[17.55,2.77e6,0.05e6],[17.6,2.72e6,0.05e6],[17.63,2.70e6,0.05e6],[17.66,2.67e6,0.05e6],[17.73,2.62e6,0.05e6],[17.76,2.58e6,0.05e6],[17.78,2.53e6,0.05e6],[17.86,2.51e6,0.05e6],[18.06,2.47e6,0.05e6],[18.1,2.43e6,0.05e6],[18.11,2.41e6,0.06e6],[18.14,2.37e6,0.06e6],[18.27,2.32e6,0.06e6],[18.32,2.32e6,0.06e6]],
  [[17.51,3.07e6,0.12e6],[17.53,3.05e6,0.12e6],[17.54,2.87e6,0.1e6],[17.6,2.85e6,0.08e6],[17.63,2.83e6,0.07e6],[17.64,2.81e6,0.06e6],[17.83,2.69e6,0.06e6],[17.89,2.67e6,0.06e6],[18.06,2.65e6,0.07e6],[18.08,2.60e6,0.08e6],[18.1,2.53e6,0.08e6],[18.13,2.47e6,0.07e6],[18.19,2.44e6,0.07e6],[18.22,2.43e6,0.07e6],[18.36,2.41e6,0.07e6],[18.39,2.36e6,0.07e6],[18.42,2.33e6,0.07e6],[18.55,2.29e6,0.05e6],[18.57,2.27e6,0.04e6],[18.6,2.27e6,0.04e6]],
  [[17.77,2.88e6,0.12e6],[17.8,2.75e6,0.1e6],[17.82,2.71e6,0.08e6],[17.85,2.69e6,0.07e6],[17.88,2.67e6,0.06e6],[18.07,2.66e6,0.07e6],[18.11,2.62e6,0.08e6],[18.16,2.58e6,0.08e6],[18.2,2.55e6,0.08e6],[18.28,2.52e6,0.09e6],[18.3,2.47e6,0.1e6],[18.34,2.40e6,0.1e6],[18.36,2.35e6,0.09e6],[18.39,2.30e6,0.08e6],[18.44,2.27e6,0.06e6],[18.45,2.26e6,0.04e6],[18.6,2.24e6,0.03e6],[18.73,2.24e6,0.03e6],[18.76,2.21e6,0.04e6],[18.79,2.17e6,0.05e6],[18.82,2.13e6,0.06e6],[18.85,2.12e6,0.06e6],[18.87,2.12e6,0.06e6]]
];
const IN_DL_DOTS = [
  [17.22,3.20e6,2],[17.24,3.10e6,2],[17.26,2.77e6,2],[17.28,2.51e6,0],[17.3,3.09e6,1],[17.32,3.02e6,2],[17.34,2.97e6,1],[17.36,2.47e6,0],[17.38,2.91e6,2],[17.4,3.13e6,1],[17.45,2.86e6,1],[17.5,3.15e6,0],[17.52,2.82e6,3],[17.55,3.05e6,2],[17.58,2.56e6,0],[17.6,2.95e6,1],[17.63,2.53e6,0],[17.65,3.20e6,1],[17.67,3.02e6,1],[17.7,3.17e6,0],
  [17.72,2.90e6,0],[17.75,3.02e6,2],[17.78,3.02e6,3],[17.8,3.20e6,1],[17.82,2.96e6,4],[17.85,2.97e6,2],[17.88,2.75e6,1],[17.9,3.00e6,0],[17.93,2.78e6,0],[17.95,2.90e6,1],[17.98,2.82e6,0],[18.0,3.10e6,1],[18.02,3.19e6,0],[18.05,2.95e6,4],[18.07,2.62e6,4],[18.1,2.98e6,1],[18.12,2.55e6,2],[18.15,2.87e6,1],[18.18,2.70e6,2],[18.2,3.09e6,1],
  [18.22,2.85e6,2],[18.24,3.00e6,0],[18.26,2.90e6,1],[18.28,2.72e6,2],[18.3,2.86e6,4],[18.32,2.89e6,0],[18.34,2.60e6,0],[18.36,2.88e6,3],[18.38,2.71e6,1],[18.4,2.55e6,0],[18.42,2.97e6,4],[18.45,2.68e6,1],[18.48,2.49e6,1],[18.52,2.51e6,1],[18.55,2.62e6,3],[18.6,2.36e6,3],[18.65,2.47e6,4],[18.7,2.28e6,0],[18.75,2.45e6,4],[18.8,3.00e6,4],
  [18.85,2.18e6,4],[18.9,2.28e6,4],[18.44,2.30e6,0],[18.5,2.24e6,1],[18.0,2.43e6,2],[17.9,2.55e6,3],[18.12,2.41e6,2],[17.47,2.95e6,2],[18.38,2.22e6,1],[18.22,2.31e6,0]
];

const IN_TE_STEPS = [
  [[17.14,0.397,0.004],[17.22,0.390,0.006],[17.25,0.388,0.008],[17.27,0.380,0.008],[17.28,0.362,0.006],[17.34,0.357,0.003],[17.47,0.355,0.003],[17.54,0.352,0.003],[17.56,0.350,0.002],[17.66,0.340,0.004],[17.67,0.322,0.004],[17.73,0.318,0.004],[17.85,0.312,0.004],[17.88,0.306,0.004],[17.9,0.301,0.004],[17.97,0.297,0.004],[18.0,0.293,0.003],[18.12,0.287,0.003],[18.13,0.283,0.002],[18.37,0.277,0.002],[18.66,0.277,0.002]],
  [[17.22,0.390,0.006],[17.25,0.388,0.006],[17.27,0.385,0.006],[17.29,0.383,0.005],[17.33,0.375,0.004],[17.35,0.370,0.003],[17.51,0.355,0.006],[17.54,0.350,0.006],[17.56,0.346,0.005],[17.59,0.342,0.005],[17.62,0.339,0.004],[17.65,0.335,0.004],[17.71,0.331,0.004],[17.74,0.328,0.004],[17.77,0.323,0.004],[17.8,0.320,0.003],[17.87,0.312,0.003],[17.9,0.308,0.003],[17.97,0.305,0.003],[18.01,0.303,0.003],[18.04,0.300,0.003],[18.06,0.292,0.003],[18.17,0.290,0.003],[18.27,0.286,0.002],[18.32,0.286,0.002]],
  [[17.23,0.400,0.006],[17.26,0.394,0.006],[17.28,0.392,0.006],[17.3,0.384,0.008],[17.32,0.378,0.008],[17.35,0.376,0.008],[17.5,0.360,0.006],[17.51,0.352,0.005],[17.54,0.350,0.005],[17.58,0.348,0.005],[17.62,0.345,0.005],[17.65,0.340,0.005],[17.71,0.336,0.005],[17.74,0.333,0.004],[17.78,0.327,0.004],[17.81,0.324,0.003],[17.88,0.321,0.003],[18.02,0.316,0.004],[18.03,0.308,0.004],[18.05,0.300,0.004],[18.07,0.298,0.004],[18.14,0.295,0.004],[18.27,0.289,0.003],[18.32,0.289,0.003]],
  [[17.5,0.386,0.007],[17.53,0.384,0.006],[17.59,0.380,0.006],[17.61,0.362,0.005],[17.79,0.355,0.006],[17.82,0.335,0.006],[17.84,0.330,0.005],[17.87,0.327,0.005],[17.9,0.324,0.005],[17.93,0.320,0.005],[17.98,0.318,0.005],[18.06,0.315,0.005],[18.08,0.311,0.005],[18.11,0.306,0.005],[18.13,0.302,0.005],[18.19,0.298,0.004],[18.21,0.295,0.004],[18.24,0.290,0.003],[18.27,0.286,0.003],[18.32,0.284,0.002],[18.43,0.278,0.002],[18.55,0.271,0.002],[18.6,0.270,0.002]],
  [[17.76,0.392,0.008],[17.78,0.385,0.007],[17.8,0.380,0.007],[17.85,0.372,0.006],[17.87,0.362,0.006],[17.9,0.358,0.006],[17.94,0.352,0.006],[18.0,0.348,0.006],[18.04,0.343,0.006],[18.07,0.338,0.006],[18.11,0.333,0.006],[18.16,0.328,0.006],[18.2,0.326,0.006],[18.24,0.323,0.006],[18.27,0.318,0.006],[18.32,0.313,0.006],[18.34,0.308,0.006],[18.37,0.303,0.005],[18.44,0.290,0.004],[18.47,0.288,0.004],[18.5,0.283,0.003],[18.6,0.281,0.002],[18.63,0.279,0.002],[18.68,0.277,0.002],[18.76,0.273,0.003],[18.81,0.269,0.003],[18.85,0.267,0.003],[18.9,0.266,0.003]]
];
const IN_TE_DOTS = [
  [17.24,0.399,2],[17.26,0.390,1],[17.27,0.395,0],[17.3,0.385,2],[17.33,0.352,0],[17.36,0.355,0],[17.4,0.398,1],[17.45,0.393,1],[17.5,0.396,1],[17.52,0.377,3],[17.55,0.346,1],[17.58,0.382,0],[17.6,0.378,1],[17.62,0.365,1],[17.65,0.370,2],[17.67,0.367,0],[17.7,0.352,1],[17.72,0.358,3],[17.74,0.335,1],[17.76,0.322,0],
  [17.78,0.342,1],[17.8,0.378,0],[17.83,0.340,4],[17.85,0.362,0],[17.88,0.345,0],[17.9,0.335,2],[17.93,0.310,0],[17.95,0.343,0],[17.98,0.328,4],[18.0,0.383,2],[18.02,0.312,1],[18.04,0.338,4],[18.06,0.345,0],[18.08,0.315,3],[18.1,0.349,4],[18.13,0.312,1],[18.15,0.302,1],[18.17,0.351,3],[18.19,0.345,0],[18.21,0.325,2],
  [18.24,0.337,0],[18.27,0.306,4],[18.3,0.345,2],[18.32,0.385,3],[18.34,0.330,0],[18.36,0.320,1],[18.39,0.341,4],[18.42,0.320,0],[18.45,0.315,2],[18.48,0.331,3],[18.5,0.280,1],[18.55,0.289,4],[18.6,0.386,4],[18.65,0.290,4],[18.68,0.306,0],[18.72,0.285,4],[18.78,0.330,4],[18.85,0.270,4],[18.25,0.296,2],[18.1,0.298,3],
  [18.3,0.286,1],[18.05,0.290,0]
];

// ===============================
// LAYOUT
// ===============================
const FMT = {
  int: v => String(Math.round(v)),
  f3: v => v.toFixed(3),
  f2: v => v.toFixed(2),
  k: v => (v / 1000).toFixed(1) + "k",
  M: v => (v / 1e6).toFixed(2) + "M"
};
const SUP = { "0": "\u2070", "1": "\u00b9", "2": "\u00b2", "3": "\u00b3", "4": "\u2074", "5": "\u2075", "6": "\u2076", "7": "\u2077", "8": "\u2078", "9": "\u2079" };

const ROWS = [
  { title: "MNIST with LeNet", titleY: 16, xTitleY: 264 },
  { title: "EMNIST with LeNet", titleY: 302, xTitleY: 548 },
  { title: "CIFAR-10 with VGG++", titleY: 586, xTitleY: 834 },
  { title: "CIFAR-100 with VGG++", titleY: 871, xTitleY: 1115 },
  { title: "ImageNet with ResNet-50", titleY: 1155, xTitleY: 1407 }
];

const PANELS = [
  { row: 0, col: 0, L: 79, T: 59, R: 520, B: 225, x: [12.695, 15.605], xt: MNIST_XTICKS, y: [3000, 8000], yt: MNIST_DL_YTICKS, fmt: "int",
    yTitle: "Descr. Length [nats]", yTitleX: 18.5, sub: "Description length vs. FLOPs", subX: 299.5, subY: 44, steps: MNIST_DL_STEPS, dots: MNIST_DL_DOTS },
  { row: 0, col: 1, L: 606, T: 58, R: 1048, B: 223, x: [12.695, 15.605], xt: MNIST_XTICKS, y: [0.005, 0.015], yt: MNIST_TE_YTICKS, fmt: "f3",
    yTitle: "Test Error", yTitleX: 542.5, sub: "Test Error vs. FLOPs", subX: 827, subY: 44, steps: MNIST_TE_STEPS, dots: MNIST_TE_DOTS },
  { row: 1, col: 0, L: 86, T: 343, R: 529, B: 508, x: [12.905, 14.905], xt: EMNIST_XTICKS, y: [45000, 80000], yt: EMNIST_DL_YTICKS, fmt: "int",
    yTitle: "Descr. Length [nats]", yTitleX: 18, sub: "Description length vs. FLOPs", subX: 307, subY: 329.5, steps: EMNIST_DL_STEPS, dots: EMNIST_DL_DOTS },
  { row: 1, col: 1, L: 606, T: 343, R: 1048, B: 508, x: [12.905, 14.905], xt: EMNIST_XTICKS, y: [0.11, 0.175], yt: EMNIST_TE_YTICKS, fmt: "f2",
    yTitle: "Test Error", yTitleX: 550.5, sub: "Test Error vs. FLOPs", subX: 827, subY: 329, steps: EMNIST_TE_STEPS, dots: EMNIST_TE_DOTS },
  { row: 2, col: 0, L: 82, T: 630, R: 526, B: 795, x: [14, 16.9], xt: C10_XTICKS, y: [20000, 40000], yt: C10_DL_YTICKS, fmt: "k",
    yTitle: "Descr. Length [nats]", yTitleX: 18.5, sub: "Description length vs. FLOPs", subX: 304, subY: 615, steps: C10_DL_STEPS, dots: C10_DL_DOTS },
  { row: 2, col: 1, L: 604, T: 629, R: 1048, B: 792, x: [14, 16.9], xt: C10_XTICKS, y: [0.05, 0.15], yt: C10_TE_YTICKS, fmt: "f2",
    yTitle: "Test Error", yTitleX: 547.5, sub: "Test Error vs. FLOPs", subX: 826, subY: 614.5, steps: C10_TE_STEPS, dots: C10_TE_DOTS },
  { row: 3, col: 0, L: 102, T: 916, R: 526, B: 1073, x: [14.78, 17.48], xt: C100_XTICKS, y: [80000, 120000], yt: C100_DL_YTICKS, fmt: "k", big: true,
    yTitle: "Descr. Length [nats]", yTitleX: 19, sub: "Description length vs. FLOPs", subX: 314, subY: 901.5, steps: C100_DL_STEPS, dots: C100_DL_DOTS },
  { row: 3, col: 1, L: 625, T: 916, R: 1048, B: 1071, x: [14.78, 17.48], xt: C100_XTICKS, y: [0.2293, 0.3695], yt: C100_TE_YTICKS, fmt: "f2", big: true,
    yTitle: "Test Error", yTitleX: 561.5, sub: "Test Error vs. FLOPs", subX: 836.5, subY: 901, steps: C100_TE_STEPS, dots: C100_TE_DOTS },
  { row: 4, col: 0, L: 85, T: 1201, R: 525, B: 1368, x: [17, 18.905], xt: IN_XTICKS, y: [2.0e6, 3.25e6], yt: IN_DL_YTICKS, fmt: "M",
    yTitle: "Descr. Length [nats]", yTitleX: 18.5, sub: "Description Length vs. FLOPs", subX: 305, subY: 1187, steps: IN_DL_STEPS, dots: IN_DL_DOTS },
  { row: 4, col: 1, L: 610, T: 1201, R: 1048, B: 1366, x: [17, 18.905], xt: IN_XTICKS, y: [0.2588, 0.400], yt: IN_TE_YTICKS, fmt: "f3",
    yTitle: "Test Error", yTitleX: 545.5, sub: "Test Error vs FLOPs", subX: 829, subY: 1187, steps: IN_TE_STEPS, dots: IN_TE_DOTS }
];

const LEGEND_X = [59, 183, 396, 619, 822];
const TEXT = "#262626";
const GRID = "#d6d6d6";
const FONT = "DejaVu Sans";

// ===============================
// HELPERS
// ===============================
function rgba(hex, a) {
  const n = parseInt(hex.slice(1), 16);
  return `rgba(${n >> 16},${(n >> 8) & 255},${n & 255},${a})`;
}

function pts(rows, k) {
  return rows.map(r => ({ x: Math.pow(10, r[0]), y: r[1] + k * r[2] }));
}

function supText(e) {
  return "10" + String(e).split("").map(c => SUP[c]).join("");
}

const framePlugin = {
  id: "frame",
  beforeDatasetsDraw(chart) {
    const { ctx, chartArea: a } = chart;
    ctx.save();
    ctx.strokeStyle = "#cfcfcf";
    ctx.lineWidth = 1.25;
    ctx.strokeRect(a.left, a.top, a.right - a.left, a.bottom - a.top);
    ctx.restore();
  }
};

function addText(cls, text, left, top, width, size) {
  const d = document.createElement("div");
  d.className = cls;
  d.textContent = text;
  d.style.left = left + "px";
  d.style.top = top + "px";
  if (width) d.style.width = width + "px";
  if (size) d.style.fontSize = size + "px";
  document.body.appendChild(d);
  return d;
}

// ===============================
// TITLES + LEGEND
// ===============================
ROWS.forEach(r => addText("title", r.title, 0, r.titleY - 16));

SERIES_NAMES.forEach((name, i) => {
  const ln = document.createElement("div");
  ln.className = "lg-line";
  ln.style.left = LEGEND_X[i] + "px";
  ln.style.top = "1441px";
  ln.style.background = COLORS[i];
  document.body.appendChild(ln);
  addText("lg-text", name, LEGEND_X[i] + 46, 1432.5);
});

// ===============================
// PANELS
// ===============================
function buildPanel(p) {
  const tickSize = p.big ? 15 : 12.5;
  const labelSize = p.big ? 17 : 14;
  const labelLH = labelSize * 1.2;
  const left = p.col ? 530 : 0;
  const width = p.col ? 520 : 530;
  const top = p.T - 28;
  const bottom = Math.round(ROWS[p.row].xTitleY + labelLH / 2);
  const xAxisH = bottom - p.B;
  const yAxisW = p.L - left;

  addText("sub", p.sub, p.subX - 200, p.subY - 0.58 * labelSize, 400, labelSize);

  const cv = document.createElement("canvas");
  cv.width = width;
  cv.height = bottom - top;
  cv.style.left = left + "px";
  cv.style.top = top + "px";
  document.body.appendChild(cv);

  const datasets = [];
  p.steps.forEach((rows, i) => {
    datasets.push({ data: pts(rows, 1), borderColor: "rgba(0,0,0,0)", borderWidth: 0, pointRadius: 0, fill: false, stepped: "after", order: 3 });
    datasets.push({ data: pts(rows, -1), borderColor: "rgba(0,0,0,0)", borderWidth: 0, pointRadius: 0, fill: "-1", backgroundColor: rgba(COLORS[i], 0.2), stepped: "after", order: 3 });
  });
  datasets.push({
    data: p.dots.map(d => ({ x: Math.pow(10, d[0]), y: d[1] })),
    showLine: false, pointRadius: 1.6, pointBorderWidth: 0, pointBorderColor: "rgba(0,0,0,0)",
    pointBackgroundColor: p.dots.map(d => COLORS[d[2]]), order: 2
  });
  p.steps.forEach((rows, i) => {
    datasets.push({ data: pts(rows, 0), borderColor: COLORS[i], borderWidth: 2, pointRadius: 0, fill: false, stepped: "after", order: 1 });
  });

  const yOffset = p.yTitleX - left - labelLH / 2;

  new Chart(cv, {
    type: "line",
    data: { datasets },
    plugins: [framePlugin],
    options: {
      responsive: false,
      animation: false,
      devicePixelRatio: 1,
      events: [],
      layout: { padding: { top: p.T - top, right: left + width - p.R, left: 0, bottom: 0 } },
      plugins: { legend: { display: false }, tooltip: { enabled: false }, title: { display: false } },
      scales: {
        x: {
          type: "logarithmic",
          min: Math.pow(10, p.x[0]),
          max: Math.pow(10, p.x[1]),
          afterBuildTicks: s => { s.ticks = p.xt.map(e => ({ value: Math.pow(10, e) })); },
          afterFit: s => { s.height = xAxisH; },
          grid: { color: GRID, lineWidth: 1.1, drawTicks: false },
          border: { display: false },
          ticks: {
            autoSkip: false, maxRotation: 0, minRotation: 0,
            padding: p.big ? 10 : 12.5,
            color: TEXT, font: { family: FONT, size: tickSize },
            callback: v => supText(Math.round(Math.log10(v)))
          },
          title: { display: true, text: "Cumulative FLOPs", color: TEXT, font: { family: FONT, size: labelSize }, padding: { top: 0, bottom: 0 } }
        },
        y: {
          type: "linear",
          min: p.y[0],
          max: p.y[1],
          afterBuildTicks: s => { s.ticks = p.yt.map(v => ({ value: v })); },
          afterFit: s => { s.width = yAxisW; },
          grid: { color: GRID, lineWidth: 1.1, drawTicks: false },
          border: { display: false },
          ticks: { padding: 13, color: TEXT, font: { family: FONT, size: tickSize }, callback: FMT[p.fmt] },
          title: { display: true, text: p.yTitle, color: TEXT, font: { family: FONT, size: labelSize }, padding: { top: yOffset, bottom: 0 } }
        }
      }
    }
  });
}

PANELS.forEach(buildPanel);
</script>
</body>
</html>
